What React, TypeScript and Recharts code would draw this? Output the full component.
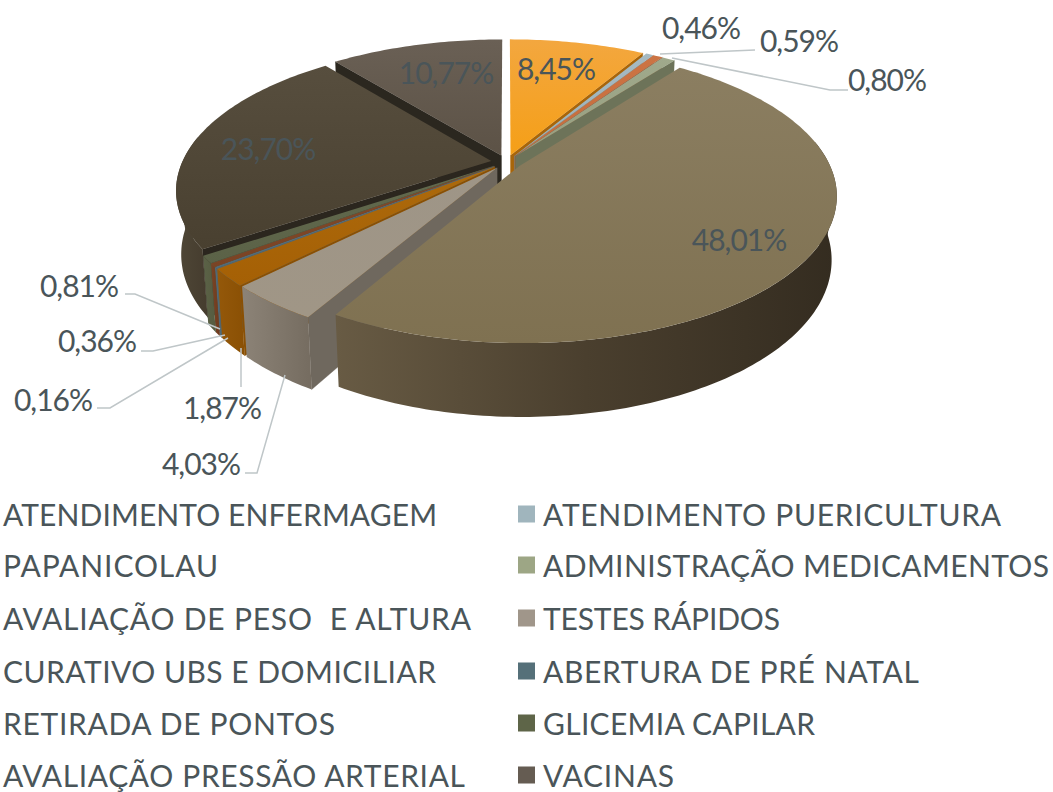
import React from "react";
import { PieChart, Pie, Legend } from "recharts";

const names = [
  "ATENDIMENTO ENFERMAGEM", "ATENDIMENTO PUERICULTURA", "PAPANICOLAU", "ADMINISTRAÇÃO MEDICAMENTOS",
  "AVALIAÇÃO DE PESO  E ALTURA", "TESTES RÁPIDOS", "CURATIVO UBS E DOMICILIAR", "ABERTURA DE PRÉ NATAL",
  "RETIRADA DE PONTOS", "GLICEMIA CAPILAR", "AVALIAÇÃO PRESSÃO ARTERIAL", "VACINAS",
];
const values = [8.45, 0.46, 0.59, 0.8, 48.01, 4.03, 1.87, 0.16, 0.36, 0.81, 23.7, 10.77];
const data = names.map((name, i) => ({ name, value: values[i] }));
const dataBackward = [...data].reverse();

const topColors = [
  ["#F3A73F", "#F59F17"], ["#A6BAC2", "#9BB0B8"], ["#CC7444", "#C66C3B"], ["#A0A98C", "#969F80"],
  ["#8B7E61", "#7F7151"], ["#9E9587", "#A09686"], ["#AD6A0C", "#A56005"], ["#5B7886", "#4F6B78"],
  ["#84492A", "#7A4324"], ["#636A4E", "#5B6247"], ["#574E3E", "#494030"], ["#6A6055", "#5C5246"],
];
const wallColors = [
  ["#B46F0C", "#A8650A"], ["#7E929A", "#7E929A"], ["#96522D", "#96522D"], ["#6E745A", "#666C52"],
  ["#685B44", "#4A3F2E", "#342C20"], ["#8C8377", "#756C60"], ["#94580A", "#8A5004"], ["#4F6B78", "#4F6B78"],
  ["#7A4324", "#6E3B1E"], ["#5B6247", "#565C40"], ["#4F4737", "#453C2E"], ["#3A332A", "#3A332A"],
];
const edgeColors = [
  "#A8650A", "#7E929A", "#96522D", "#6D7359", "#5E533E", "#6F685E", "#8A5004", "#4F6B78",
  "#6E3B1E", "#565C40", "#2B261E", "#2B271F",
];
const legendSwatches = ["", "#A0B5BD", "", "#9DA685", "", "#A0968A", "", "#557079", "", "#5E6548", "", "#655C52"];
const legendWidths = [434, 458, 215, 506, 468, 237, 433, 376, 332, 272, 462, 131];
const legendRows = [514, 565, 618, 671, 723, 775];

const labelTexts = ["8,45%", "0,46%", "0,59%", "0,80%", "48,01%", "4,03%", "1,87%", "0,16%", "0,36%", "0,81%", "23,70%", "10,77%"];
const labelSpots = [
  [556, 68], [701, 27], [799, 40], [887, 79], [739, 239], [201, 463],
  [222, 407], [53, 399], [97, 340], [79, 285], [268, 148], [446, 72],
];
const leaders: (string | null)[] = [
  null, null, "M660,54L755,50", "M672,58L830,90L848,90", null, "M285,375L257,473L245,473",
  "M241,348L241,387", "M228,338L110,408L97,408", "M225,335L153,351L141,351", "M220,329L135,294L125,294", null, null,
];
const labelColor = "#4A5559";

const tilt = 0.456;
const persp = 0.195;
const burst = 0.05;
const depth = 62;
const lowerScale = 0.985;

function geometry(p: any) {
  const R = p.outerRadius;
  const rad = Math.PI / 180;
  const mid = ((p.startAngle + p.endAngle) / 2) * rad;
  const ox = Math.cos(mid) * burst;
  const oy = -Math.sin(mid) * burst;
  const project = (u0: number, v0: number, drop = 0) => {
    const s = drop ? lowerScale : 1;
    const u = u0 * s;
    const v = v0 * s;
    const w = 1 / (1 - persp * v);
    return [p.cx + R * u * w, p.cy + R * tilt * v * w + drop * w];
  };
  const rim = (a: number, drop = 0) =>
    project(ox + Math.cos(a * rad), oy - Math.sin(a * rad), drop);
  const apex = (drop = 0) => project(ox, oy, drop);
  const arc = (from: number, to: number, drop = 0) => {
    const n = Math.max(2, Math.ceil(Math.abs(to - from)));
    const pts = [];
    for (let i = 0; i <= n; i++) pts.push(rim(from + ((to - from) * i) / n, drop));
    return pts;
  };
  return { rim, apex, arc };
}
const toPath = (pts: number[][]) =>
  "M" + pts.map((q) => q[0].toFixed(2) + "," + q[1].toFixed(2)).join("L") + "Z";
const indexOfSector = (p: any) => names.indexOf(p.name ?? p.payload?.name);

function face(p: any, a: number) {
  const i = indexOfSector(p);
  const g = geometry(p);
  return (
    <path
      d={toPath([g.apex(), g.rim(a), g.rim(a, depth), g.apex(depth)])}
      fill={edgeColors[i]} stroke={edgeColors[i]} strokeWidth={0.4}
    />
  );
}
// left half of the pie: the clockwise-leading wall of a slice faces the viewer
function LeadingWall(p: any) {
  const a = Math.max(p.startAngle, p.endAngle);
  return Math.sin(((90 - a) * Math.PI) / 180) < -0.01 ? face(p, a) : <g />;
}
// right half of the pie: the clockwise-trailing wall of a slice faces the viewer
function TrailingWall(p: any) {
  const a = Math.min(p.startAngle, p.endAngle);
  return Math.sin(((90 - a) * Math.PI) / 180) > 0.01 ? face(p, a) : <g />;
}
function RimWall(p: any) {
  const i = indexOfSector(p);
  const g = geometry(p);
  // the front of the rim, a little past the widest points so the silhouette closes under the top
  const hi = Math.min(p.startAngle, 10);
  const lo = Math.max(p.endAngle, -190);
  if (hi <= lo) return <g />;
  const c = wallColors[i];
  // straight silhouette edges from the widest point of the top to the lower rim
  const tangents = [[-172, -150, c[0]], [-8, -30, c[c.length - 1]]] as [number, number, string][];
  return (
    <g>
      {tangents
        .filter(([from, to]) => from <= p.startAngle && to >= p.endAngle)
        .map(([from, to, col]) => (
          <path key={from} d={toPath([g.rim(from), g.rim(to, depth), g.rim(to)])} fill={col} stroke="none" />
        ))}
      <path d={toPath([...g.arc(hi, lo), ...g.arc(lo, hi, depth)])} fill={`url(#wall${i})`} stroke="none" />
    </g>
  );
}
function Top(p: any) {
  const i = indexOfSector(p);
  const g = geometry(p);
  return <path d={toPath([g.apex(), ...g.arc(p.startAngle, p.endAngle)])} fill={`url(#top${i})`} stroke="none" />;
}
function SliceLabel(p: any) {
  const i = p.index;
  const [x, y] = labelSpots[i];
  return (
    <g>
      {leaders[i] && <path d={leaders[i] as string} fill="none" stroke="#BFC6C8" strokeWidth={1.5} />}
      <text x={x} y={y} textAnchor="middle" dominantBaseline="central" fontFamily="Lato" fontSize={30} letterSpacing={-1} fill={labelColor}>
        {labelTexts[i]}
      </text>
    </g>
  );
}
function LegendBox() {
  return (
    <svg width={1053} height={792} style={{ position: "absolute", left: 0, top: 0, pointerEvents: "none" }}>
      {names.map((n, i) => {
        const y = legendRows[Math.floor(i / 2)];
        const right = i % 2 === 1;
        return (
          <g key={n}>
            {right && <rect x={518} y={y - 8.5} width={17} height={17} fill={legendSwatches[i]} />}
            <text
              x={right ? 543 : 3} y={y} dominantBaseline="central" fontFamily="Lato" fontSize={30}
              fill={labelColor} xmlSpace="preserve" textLength={legendWidths[i]} lengthAdjust="spacing"
            >
              {n}
            </text>
          </g>
        );
      })}
    </svg>
  );
}

export default function App() {
  const common = {
    dataKey: "value", nameKey: "name", cx: 506.5, cy: 162, outerRadius: 309,
    paddingAngle: 0, stroke: "none", isAnimationActive: false, label: false, labelLine: false,
  };
  const clockwise = { startAngle: 90, endAngle: -270 };
  const counter = { startAngle: -270, endAngle: 90 };
  return (
    <div style={{ position: "absolute", left: 0, top: 0, width: 1053, height: 792, overflow: "hidden", background: "#fff" }}>
      <PieChart width={1053} height={792} margin={{ top: 0, right: 0, bottom: 0, left: 0 }}>
        <defs>
          {topColors.map((c, i) => (
            <linearGradient key={i} id={`top${i}`} x1="0" y1="0" x2="0" y2="1">
              <stop offset="0" stopColor={c[0]} />
              <stop offset="1" stopColor={c[1]} />
            </linearGradient>
          ))}
          {wallColors.map((c, i) => (
            <linearGradient key={i} id={`wall${i}`} x1="0" y1="0" x2="1" y2="0">
              {c.map((col, k) => (
                <stop key={k} offset={k / (c.length - 1)} stopColor={col} />
              ))}
            </linearGradient>
          ))}
        </defs>
        <Pie {...common} {...counter} data={dataBackward} shape={LeadingWall} />
        <Pie {...common} {...clockwise} data={data} shape={TrailingWall} />
        <Pie {...common} {...clockwise} data={data} shape={RimWall} />
        <Pie {...common} {...clockwise} data={data} shape={Top} label={SliceLabel} />
        <Legend content={() => <LegendBox />} wrapperStyle={{ position: "absolute", left: 0, top: 0, width: 1053, height: 0 }} />
      </PieChart>
    </div>
  );
}
